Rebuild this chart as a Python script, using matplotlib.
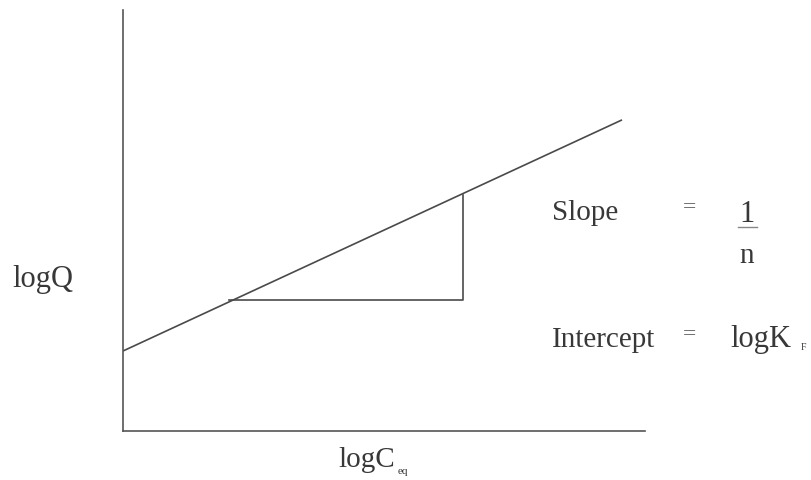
import matplotlib
matplotlib.use("Agg")
import matplotlib.pyplot as plt
from matplotlib.lines import Line2D

# Schematic Freundlich isotherm (abstract log units)
iso_x = [0.0, 9.56]          # logCeq
iso_y = [1.90, 7.39]         # logQ
tri_x = [2.03, 6.51, 6.51]   # slope triangle
tri_y = [3.11, 3.11, 5.61]

W, H = 812, 480
fig = plt.figure(figsize=(W / 100, H / 100), dpi=100)
fig.patch.set_facecolor("white")

left, right, bottom, top = 123, 645, 431, 10
ax = fig.add_axes([left / W, 1 - bottom / H, (right - left) / W, (bottom - top) / H])
ax.set_xlim(0, 10)
ax.set_ylim(0, 10)
for s in ["top", "right"]:
    ax.spines[s].set_visible(False)
for s in ["left", "bottom"]:
    ax.spines[s].set_color("#555555")
    ax.spines[s].set_linewidth(1.2)
ax.set_xticks([])
ax.set_yticks([])
ax.patch.set_alpha(0)

line_col = "#4a4a4a"
ax.plot(iso_x, iso_y, color=line_col, lw=1.2, solid_capstyle="butt")
ax.plot(tri_x, tri_y, color=line_col, lw=1.2)

tc = "#383838"
fam = ["Liberation Serif", "DejaVu Serif"]

def ftext(x, y, s, size=21, ha="left", va="baseline", color=tc):
    fig.text(x / W, 1 - y / H, s, fontsize=size, family=fam, color=color, ha=ha, va=va)

ftext(12, 287, "logQ", size=22)
ftext(338, 467, "logC")
ftext(398, 474, "eq", size=8)

ftext(552, 220, "Slope")
ftext(690, 208, "=", size=17, ha="center", va="center", color="#666666")
ftext(747, 222, "1", size=22, ha="center")
fig.add_artist(Line2D([738 / W, 757 / W], [1 - 227 / H, 1 - 227 / H],
                      transform=fig.transFigure, color="#888888", lw=1.0))
ftext(747, 263, "n", ha="center")

ftext(552, 347, "Intercept")
ftext(690, 335, "=", size=17, ha="center", va="center", color="#666666")
ftext(730, 347, "logK", size=22)
ftext(801, 350, "F", size=7)

fig.savefig("out.png", dpi=100, facecolor="white")
